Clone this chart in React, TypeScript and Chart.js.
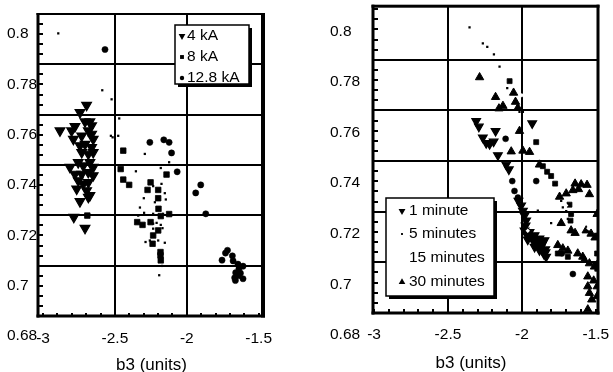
import React, { useEffect, useRef } from 'react';
import { Chart, registerables } from 'chart.js';

Chart.register(...registerables);

type P = [number, number];

const FONT_FAMILY = '"Liberation Sans", Arial, Helvetica, sans-serif';

// ---------- axis data ----------
const xTickValues = [-3, -2.5, -2, -1.5];
const yTickValues = [0.68, 0.7, 0.72, 0.74, 0.76, 0.78, 0.8];
const xGridValues = [-2.5, -2];
const yGridValues = [0.7, 0.72, 0.74, 0.76, 0.78];
const axisTitle = 'b3 (units)';

// ---------- left panel data ----------
const leftLegendLabels = ['4 kA', '8 kA', '12.8 kA'];

const kA4: P[] = [
  [-2.697, 0.7638], [-2.743, 0.7609], [-2.778, 0.7553], [-2.708, 0.7572], [-2.674, 0.7572],
  [-2.662, 0.7556], [-2.801, 0.7536], [-2.789, 0.7503], [-2.731, 0.7516], [-2.685, 0.7536],
  [-2.662, 0.7523], [-2.651, 0.7503], [-2.743, 0.7477], [-2.708, 0.7483], [-2.662, 0.747],
  [-2.731, 0.745], [-2.651, 0.745], [-2.674, 0.741], [-2.72, 0.7397], [-2.651, 0.7391],
  [-2.778, 0.7364], [-2.685, 0.7371], [-2.651, 0.7358], [-2.755, 0.7338], [-2.72, 0.7325],
  [-2.685, 0.7331], [-2.766, 0.7305], [-2.697, 0.7298], [-2.685, 0.7272], [-2.786, 0.7193],
  [-2.708, 0.7149], [-2.882, 0.7536], [-2.8125, 0.7391], [-2.743, 0.7255], [-2.674, 0.7279],
  [-2.731, 0.7364], [-2.685, 0.7444], [-2.755, 0.741],
];

const kA8: P[] = [
  [-2.442, 0.7457], [-2.46, 0.7384], [-2.141, 0.7362], [-2.442, 0.7342], [-2.401, 0.7321],
  [-2.252, 0.7331], [-2.273, 0.7301], [-2.199, 0.7301], [-2.199, 0.7268], [-2.197, 0.7226],
  [-2.181, 0.7197], [-2.123, 0.7205], [-2.345, 0.7173], [-2.308, 0.7162], [-2.252, 0.7173],
  [-2.199, 0.714], [-2.234, 0.712], [-2.238, 0.7087], [-2.183, 0.7054], [-2.183, 0.7041],
  [-2.181, 0.7021], [-2.692, 0.7199],
];

const kA128: P[] = [
  [-2.569, 0.7859], [-2.257, 0.749], [-2.16, 0.75], [-2.123, 0.749], [-2.106, 0.7448],
  [-2.067, 0.7373], [-1.903, 0.7321], [-1.938, 0.7289], [-1.868, 0.7206], [-1.717, 0.7061],
  [-1.731, 0.705], [-1.755, 0.7022], [-1.683, 0.7039], [-1.678, 0.7019], [-1.644, 0.7006],
  [-1.609, 0.6998], [-1.637, 0.6989], [-1.66, 0.6972], [-1.627, 0.697], [-1.667, 0.6952],
  [-1.609, 0.6948], [-1.641, 0.696], [-1.662, 0.6941],
];

const leftSmallDots: P[] = [
  [-2.894, 0.7923], [-2.588, 0.7697], [-2.523, 0.7661], [-2.47, 0.7585], [-2.528, 0.7516],
  [-2.516, 0.751], [-2.477, 0.7516], [-2.292, 0.7444], [-2.123, 0.7411], [-2.354, 0.7375],
  [-2.181, 0.7388], [-2.176, 0.7325], [-2.234, 0.7316], [-2.153, 0.7288], [-2.299, 0.7268],
  [-2.146, 0.7263], [-2.222, 0.7252], [-2.326, 0.7231], [-2.297, 0.721], [-2.234, 0.7206],
  [-2.165, 0.7206], [-2.338, 0.7199], [-2.234, 0.7167], [-2.21, 0.717], [-2.234, 0.7147],
  [-2.181, 0.7162], [-2.169, 0.7149], [-2.287, 0.7094], [-2.257, 0.71], [-2.199, 0.71],
  [-2.153, 0.7091], [-2.172, 0.6999], [-2.192, 0.6962],
];

// ---------- right panel data ----------
const rightLegendLabels = ['1 minute', '5 minutes', '15 minutes', '30 minutes'];

const min1: P[] = [
  [-2.309, 0.7558], [-2.291, 0.7536], [-2.178, 0.7519], [-2.264, 0.7493], [-2.241, 0.7471],
  [-2.218, 0.7467], [-2.191, 0.7477], [-2.162, 0.7423], [-2.106, 0.7386], [-2.088, 0.7367],
  [-1.93, 0.7549], [-2.023, 0.7243], [-2.005, 0.7224], [-1.993, 0.7204], [-1.982, 0.7185],
  [-1.971, 0.7165], [-1.982, 0.7126], [-1.948, 0.712], [-1.914, 0.7107], [-1.881, 0.7094],
  [-1.847, 0.7087], [-1.964, 0.7107], [-1.932, 0.7094], [-1.899, 0.7081], [-1.865, 0.7068],
  [-1.842, 0.7051], [-1.914, 0.7061], [-1.881, 0.7048], [-1.851, 0.7033], [-1.836, 0.7022],
  [-1.955, 0.7115], [-1.925, 0.71], [-1.89, 0.7088], [-1.86, 0.7075], [-1.905, 0.7072],
  [-1.872, 0.7058], [-1.84, 0.704], [-1.975, 0.7145], [-1.96, 0.709],
];

const min5: P[] = [
  [-2.354, 0.7928], [-2.264, 0.7865], [-2.234, 0.7851], [-2.189, 0.7822], [-2.151, 0.7773],
  [-2.099, 0.7688], [-2.016, 0.7595], [-1.993, 0.7595], [-1.892, 0.7204], [-1.723, 0.7217],
  [-1.7, 0.7202], [-1.689, 0.7172], [-1.734, 0.7243], [-1.802, 0.7155],
];

const min15: P[] = [
  [-2.03, 0.7455], [-1.96, 0.7125], [-1.7, 0.7225], [-1.66, 0.708], [-1.55, 0.7135], [-2.0, 0.766],
];

const min30: P[] = [
  [-2.286, 0.7731], [-2.056, 0.767], [-2.178, 0.7653], [-2.043, 0.7634], [-2.128, 0.7618],
  [-2.155, 0.7608], [-2.027, 0.761], [-2.016, 0.7519], [-2.072, 0.7438], [-1.993, 0.7441],
  [-1.948, 0.7436], [-1.881, 0.7386], [-1.64, 0.7311], [-1.599, 0.7308], [-1.559, 0.7306],
  [-1.543, 0.7269], [-1.745, 0.7259], [-1.7, 0.7272], [-1.655, 0.7285], [-1.617, 0.7289],
  [-1.734, 0.7155], [-1.667, 0.7126], [-1.64, 0.7116], [-1.565, 0.7126], [-1.532, 0.7113],
  [-1.505, 0.7098], [-1.491, 0.7191], [-1.49, 0.71], [-1.757, 0.7068], [-1.723, 0.7055],
  [-1.689, 0.7046], [-1.622, 0.7035], [-1.588, 0.7022], [-1.577, 0.7009], [-1.543, 0.6996],
  [-1.509, 0.6983], [-1.491, 0.699], [-1.554, 0.6944], [-1.514, 0.6928], [-1.554, 0.6905],
  [-1.543, 0.6879], [-1.527, 0.6853], [-1.49, 0.6905], [-1.491, 0.6866], [-1.554, 0.6814],
];

const rightSquares: P[] = [
  [-2.083, 0.7716], [-1.903, 0.7475], [-1.858, 0.738], [-1.829, 0.7358], [-1.802, 0.7341],
  [-1.775, 0.7311], [-1.678, 0.7228], [-1.667, 0.7191], [-1.671, 0.7165], [-1.689, 0.7022],
  [-1.757, 0.7035], [-1.491, 0.7035], [-1.49, 0.6975],
];

const rightCircles: P[] = [
  [-2.11, 0.7488], [-2.065, 0.7321], [-2.05, 0.7282], [-2.027, 0.7256], [-1.903, 0.7321],
  [-1.655, 0.6954], [-1.73, 0.7035],
];

// ---------- helpers ----------
function fmt(v: any) {
  return String(Number(Number(v).toFixed(3)));
}

function drawMarker(ctx: CanvasRenderingContext2D, style: string, x: number, y: number, r: number, rotation: number, color: string) {
  ctx.save();
  ctx.fillStyle = color;
  ctx.beginPath();
  if (style === 'circle') {
    ctx.arc(x, y, r, 0, Math.PI * 2);
  } else if (style === 'rect') {
    const s = r * Math.SQRT1_2;
    ctx.rect(x - s, y - s, 2 * s, 2 * s);
  } else if (style === 'rectRot') {
    ctx.moveTo(x, y - r);
    ctx.lineTo(x + r, y);
    ctx.lineTo(x, y + r);
    ctx.lineTo(x - r, y);
  } else if (style === 'triangle') {
    let rad = (rotation * Math.PI) / 180;
    for (let i = 0; i < 3; i++) {
      const px = x + Math.sin(rad) * r;
      const py = y - Math.cos(rad) * r;
      if (i === 0) ctx.moveTo(px, py);
      else ctx.lineTo(px, py);
      rad += (2 * Math.PI) / 3;
    }
  }
  ctx.closePath();
  ctx.fill();
  ctx.restore();
}

const framePlugin = {
  id: 'panelFrame',
  afterDatasetsDraw(chart: any, _args: any, o: any) {
    const { ctx, chartArea: a, scales } = chart;
    ctx.save();
    ctx.fillStyle = '#000';
    const ys = scales.y;
    const nY = Math.round((o.yMinorEnd - o.yMinorStart) / o.yMinorStep);
    for (let i = 0; i <= nY; i++) {
      const v = o.yMinorStart + i * o.yMinorStep;
      const py = ys.getPixelForValue(v);
      if (py < a.top - 0.5 || py > a.bottom + 0.5) continue;
      ctx.fillRect(a.left, Math.round(py) - o.minorWidth / 2, o.yMinorLen, o.minorWidth);
    }
    const xs = scales.x;
    const nX = Math.round((o.xMinorEnd - o.xMinorStart) / o.xMinorStep);
    for (let i = 0; i <= nX; i++) {
      const v = o.xMinorStart + i * o.xMinorStep;
      const px = xs.getPixelForValue(v);
      if (px < a.left || px > a.right) continue;
      ctx.fillRect(Math.round(px) - o.minorWidth / 2, a.bottom - o.xMinorLen, o.minorWidth, o.xMinorLen);
    }
    const f = o.frame;
    const w = a.right - a.left;
    const h = a.bottom - a.top;
    ctx.fillRect(a.left - f.left / 2, a.top - f.top / 2, w + f.left / 2 + f.right / 2, f.top);
    ctx.fillRect(a.left - f.left / 2, a.bottom - f.bottom / 2, w + f.left / 2 + f.right / 2, f.bottom);
    ctx.fillRect(a.left - f.left / 2, a.top - f.top / 2, f.left, h + f.top / 2 + f.bottom / 2);
    ctx.fillRect(a.right - f.right / 2, a.top - f.top / 2, f.right, h + f.top / 2 + f.bottom / 2);
    ctx.restore();
  },
};

const legendPlugin = {
  id: 'boxLegend',
  afterDraw(chart: any, _args: any, o: any) {
    const { ctx } = chart;
    const b = o.box;
    ctx.save();
    ctx.fillStyle = '#000';
    ctx.fillRect(b.x + o.shadow, b.y + o.shadow, b.w, b.h);
    ctx.fillStyle = '#fff';
    ctx.fillRect(b.x, b.y, b.w, b.h);
    ctx.strokeStyle = '#000';
    ctx.lineWidth = o.border;
    ctx.strokeRect(b.x, b.y, b.w, b.h);
    ctx.font = `${o.fontSize}px ${FONT_FAMILY}`;
    ctx.textBaseline = 'middle';
    ctx.textAlign = 'left';
    const labels: string[] = o.labels;
    labels.forEach((label: string, i: number) => {
      const ds = chart.data.datasets[o.datasetIndex[i]];
      const y = o.rows[i];
      drawMarker(ctx, ds.pointStyle, o.markerX, y, ds.pointRadius * o.markerScale, ds.pointRotation || 0, ds.pointBackgroundColor);
      ctx.fillStyle = '#000';
      ctx.fillText(label, o.textX, y);
    });
    ctx.restore();
  },
};

const titlePlugin = {
  id: 'axisTitleText',
  afterDraw(chart: any, _args: any, o: any) {
    const { ctx } = chart;
    ctx.save();
    ctx.font = `${o.size}px ${FONT_FAMILY}`;
    ctx.fillStyle = '#000';
    ctx.textAlign = 'center';
    ctx.textBaseline = 'middle';
    ctx.fillText(o.text, o.x, o.y);
    ctx.restore();
  },
};

// ---------- panels ----------
const TICK_FONT = 15.5;

const leftPanel = {
  left: 0,
  width: 306,
  padding: { left: 7, top: 14, right: 43, bottom: 0 },
  yAxisWidth: 31,
  xAxisHeight: 56,
  xMin: -3.035,
  xMax: -1.47,
  yMin: 0.68,
  yMax: 0.8,
  labelOffset: 20,
  xPadding: 13,
  frame: { top: 2, left: 3, bottom: 3, right: 4 },
  yMinorLen: 5,
  xMinorLen: 3,
  series: [
    { label: '4 kA', points: kA4, style: 'triangle', radius: 5.6, border: 1.2, rotation: 180, color: '#000' },
    { label: '8 kA', points: kA8, style: 'rect', radius: 3.9, border: 0.8, rotation: 0, color: '#000' },
    { label: '12.8 kA', points: kA128, style: 'circle', radius: 3.1, border: 0.5, rotation: 0, color: '#000' },
    { label: 'small', points: leftSmallDots, style: 'rect', radius: 1.6, border: 0, rotation: 0, color: '#000' },
  ],
  legend: {
    labels: leftLegendLabels,
    datasetIndex: [0, 1, 2],
    box: { x: 175, y: 25, w: 74, h: 59 },
    shadow: 3,
    border: 1.5,
    rows: [36, 57, 78],
    markerX: 182,
    textX: 187,
    markerScale: 0.7,
    fontSize: 15.5,
  },
  title: { text: axisTitle, x: 151.5, y: 365, size: 17 },
};

const rightPanel = {
  left: 306,
  width: 307,
  padding: { left: 24, top: 3, right: 15, bottom: 0 },
  yAxisWidth: 43,
  xAxisHeight: 59,
  xMin: -3.007,
  xMax: -1.485,
  yMin: 0.68,
  yMax: 0.8012,
  labelOffset: 22,
  xPadding: 12,
  frame: { top: 3, left: 3, bottom: 3, right: 3 },
  yMinorLen: 5,
  xMinorLen: 4,
  series: [
    { label: '15 minutes', points: min15, style: 'rectRot', radius: 2.2, border: 0, rotation: 0, color: '#fff' },
    { label: '5 minutes', points: min5, style: 'rect', radius: 1.6, border: 0, rotation: 0, color: '#000' },
    { label: '1 minute', points: min1, style: 'triangle', radius: 5, border: 1.2, rotation: 180, color: '#000' },
    { label: '30 minutes', points: min30, style: 'triangle', radius: 4.8, border: 1, rotation: 0, color: '#000' },
    { label: 'squares', points: rightSquares, style: 'rect', radius: 3.5, border: 0.8, rotation: 0, color: '#000' },
    { label: 'circles', points: rightCircles, style: 'circle', radius: 3, border: 0.5, rotation: 0, color: '#000' },
  ],
  legend: {
    labels: rightLegendLabels,
    datasetIndex: [2, 1, 0, 3],
    box: { x: 80, y: 198, w: 108, h: 98 },
    shadow: 3,
    border: 1.5,
    rows: [211, 234, 258, 282],
    markerX: 96,
    textX: 103,
    markerScale: 0.8,
    fontSize: 15.5,
  },
  title: { text: axisTitle, x: 165, y: 363, size: 17 },
};

function buildConfig(p: any): any {
  const tickFont = { family: FONT_FAMILY, size: TICK_FONT };
  const zeroPad = (s: any) => {
    s.paddingLeft = 0;
    s.paddingRight = 0;
    s.paddingTop = 0;
    s.paddingBottom = 0;
  };
  return {
    type: 'scatter',
    data: {
      datasets: p.series.map((s: any) => ({
        label: s.label,
        data: s.points.map(([x, y]: P) => ({ x, y })),
        pointStyle: s.style,
        pointRadius: s.radius,
        pointHoverRadius: s.radius,
        pointRotation: s.rotation,
        pointBackgroundColor: s.color,
        pointBorderColor: s.color,
        pointBorderWidth: s.border,
        showLine: false,
      })),
    },
    options: {
      animation: false,
      responsive: false,
      devicePixelRatio: 1,
      events: [],
      layout: { padding: p.padding },
      plugins: {
        legend: { display: false },
        tooltip: { enabled: false },
        title: { display: false },
        panelFrame: {
          frame: p.frame,
          yMinorStart: p.yMin,
          yMinorEnd: 0.804,
          yMinorStep: 0.004,
          yMinorLen: p.yMinorLen,
          xMinorStart: -3,
          xMinorEnd: -1.5,
          xMinorStep: 0.1,
          xMinorLen: p.xMinorLen,
          minorWidth: 2,
        },
        boxLegend: p.legend,
        axisTitleText: p.title,
      },
      scales: {
        x: {
          type: 'linear',
          position: 'bottom',
          min: p.xMin,
          max: p.xMax,
          afterBuildTicks: (s: any) => {
            s.ticks = xTickValues.map((v) => ({ value: v }));
          },
          afterFit: (s: any) => {
            s.height = p.xAxisHeight;
            zeroPad(s);
          },
          grid: {
            color: (c: any) => (c.tick && xGridValues.includes(c.tick.value) ? '#000' : 'rgba(0,0,0,0)'),
            lineWidth: 2,
            drawTicks: false,
          },
          border: { display: false },
          ticks: {
            autoSkip: false,
            maxRotation: 0,
            minRotation: 0,
            padding: p.xPadding,
            color: '#000',
            font: tickFont,
            callback: (v: any) => fmt(v),
          },
        },
        y: {
          type: 'linear',
          position: 'left',
          min: p.yMin,
          max: p.yMax,
          afterBuildTicks: (s: any) => {
            s.ticks = yTickValues.map((v) => ({ value: v }));
          },
          afterFit: (s: any) => {
            s.width = p.yAxisWidth;
            zeroPad(s);
          },
          grid: {
            color: (c: any) => (c.tick && yGridValues.some((g) => Math.abs(g - c.tick.value) < 1e-9) ? '#000' : 'rgba(0,0,0,0)'),
            lineWidth: 2,
            drawTicks: false,
          },
          border: { display: false },
          ticks: {
            autoSkip: false,
            crossAlign: 'far',
            labelOffset: p.labelOffset,
            padding: 0,
            color: '#000',
            font: tickFont,
            callback: (v: any) => fmt(v),
          },
        },
      },
    },
    plugins: [framePlugin, legendPlugin, titlePlugin],
  };
}

function Panel({ panel }: { panel: any }) {
  const ref = useRef<HTMLCanvasElement | null>(null);
  useEffect(() => {
    if (!ref.current) return;
    const chart = new Chart(ref.current, buildConfig(panel));
    return () => chart.destroy();
  }, [panel]);
  return (
    <canvas
      ref={ref}
      width={panel.width}
      height={372}
      style={{ position: 'absolute', left: panel.left, top: 0, width: panel.width, height: 372 }}
    />
  );
}

export default function App() {
  useEffect(() => {
    document.body.style.margin = '0';
    document.body.style.background = '#fff';
  }, []);
  return (
    <div style={{ position: 'absolute', left: 0, top: 0, width: 613, height: 372, background: '#fff' }}>
      <Panel panel={leftPanel} />
      <Panel panel={rightPanel} />
    </div>
  );
}
